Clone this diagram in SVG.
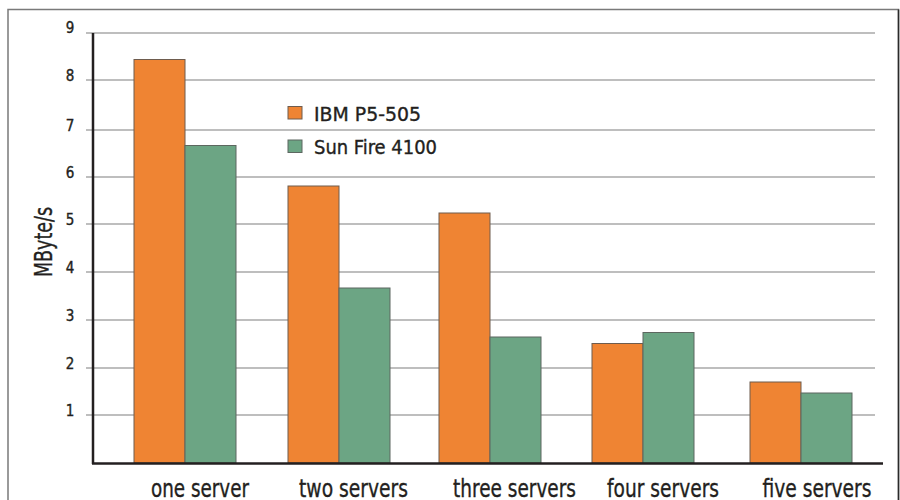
<svg xmlns="http://www.w3.org/2000/svg" width="900" height="500" viewBox="0 0 900 500">
<style>
.t{font-family:"DejaVu Sans Condensed","DejaVu Sans","Liberation Sans",sans-serif;fill:#231f20;stroke:#231f20;stroke-width:0.35}
.tick{font-size:15px;text-anchor:middle}
.cat{font-size:25px;text-anchor:middle}
.leg{font-size:20px}
.grid{stroke:#a9a9a9;stroke-width:1.5}
.ibm{fill:#ef8433;stroke:#6e5c4e;stroke-width:1}
.sun{fill:#6ca584;stroke:#5d6760;stroke-width:1}
</style>
<rect x="0" y="0" width="900" height="500" fill="#ffffff"/>
<path d="M8,520 V9.5 H898.5 V520" fill="none" stroke="#7a7a7a" stroke-width="1.5"/>
<line x1="898.5" y1="9.5" x2="898.5" y2="520" stroke="#2a2a2a" stroke-width="1.5"/>
<g id="grid">
<line class="grid" x1="86" y1="33" x2="875" y2="33"/>
<line class="grid" x1="86" y1="80" x2="875" y2="80"/>
<line class="grid" x1="86" y1="130" x2="875" y2="130"/>
<line class="grid" x1="86" y1="177" x2="875" y2="177"/>
<line class="grid" x1="86" y1="224" x2="875" y2="224"/>
<line class="grid" x1="86" y1="272" x2="875" y2="272"/>
<line class="grid" x1="86" y1="320" x2="875" y2="320"/>
<line class="grid" x1="86" y1="368" x2="875" y2="368"/>
<line class="grid" x1="86" y1="415" x2="875" y2="415"/>
</g>
<g id="ticks" class="t tick">
<text x="70" y="33">9</text>
<text x="70" y="81">8</text>
<text x="70" y="131">7</text>
<text x="70" y="178">6</text>
<text x="70" y="225">5</text>
<text x="70" y="273">4</text>
<text x="70" y="321">3</text>
<text x="70" y="369">2</text>
<text x="70" y="416">1</text>
</g>
<text class="t" font-size="25" text-anchor="middle" transform="translate(52,242) rotate(-90)" textLength="70" lengthAdjust="spacingAndGlyphs">MByte/s</text>
<g id="bars">
<rect class="ibm" x="134" y="59.5" width="51" height="403.5"/>
<rect class="sun" x="185" y="145.5" width="51" height="317.5"/>
<rect class="ibm" x="288" y="186" width="51" height="277"/>
<rect class="sun" x="339" y="288" width="51" height="175"/>
<rect class="ibm" x="439" y="213" width="51" height="250"/>
<rect class="sun" x="490" y="337" width="51" height="126"/>
<rect class="ibm" x="592" y="343.5" width="51" height="119.5"/>
<rect class="sun" x="643" y="332.5" width="51" height="130.5"/>
<rect class="ibm" x="750" y="382" width="51" height="81"/>
<rect class="sun" x="801" y="393" width="51" height="70"/>
</g>
<g id="axes">
<line x1="93" y1="33" x2="93" y2="464" stroke="#231f20" stroke-width="2.5"/>
<line x1="92" y1="463.5" x2="883" y2="463.5" stroke="#231f20" stroke-width="2.5"/>
</g>
<g id="legend">
<rect class="ibm" x="288" y="106.5" width="14" height="12.5"/>
<text class="t leg" x="314" y="121" textLength="107" lengthAdjust="spacingAndGlyphs">IBM P5-505</text>
<rect class="sun" x="288" y="140" width="14" height="12.5"/>
<text class="t leg" x="314" y="154" textLength="123" lengthAdjust="spacingAndGlyphs">Sun Fire 4100</text>
</g>
<g id="categories" class="t cat">
<text x="200" y="496.5" textLength="98" lengthAdjust="spacingAndGlyphs">one server</text>
<text x="353.5" y="496.5" textLength="109" lengthAdjust="spacingAndGlyphs">two servers</text>
<text x="514.5" y="496.5" textLength="123" lengthAdjust="spacingAndGlyphs">three servers</text>
<text x="663" y="496.5" textLength="112" lengthAdjust="spacingAndGlyphs">four servers</text>
<text x="817" y="496.5" textLength="109" lengthAdjust="spacingAndGlyphs">five servers</text>
</g>
</svg>
